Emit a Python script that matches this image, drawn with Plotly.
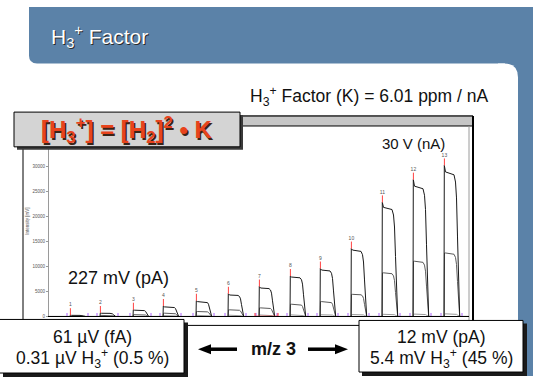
import plotly.graph_objects as go

W, H = 547, 379

def X(p):
    return p / W

def Y(p):
    return 1 - p / H

# ---------------- data ----------------
group_ids = list(range(1, 14))
rise_time = [21, 51, 84, 114, 147, 179, 210, 241, 271, 302, 333, 364, 395]   # scan axis units
pulse_len = [16] * 13
peak_mv = [260, 700, 1350, 2100, 3150, 4550, 6000, 8100, 9600, 13600, 22850, 27400, 30250]
upper_mv = [220, 640, 1260, 1920, 2980, 4300, 5700, 7900, 9300, 13300, 21850, 26100, 28950]
lower_mv = [110, 220, 360, 660, 990, 1330, 1720, 2450, 2980, 4430, 8740, 11060, 12715]
floor_mv = [60, 90, 140, 180, 220, 260, 300, 320, 340, 380, 430, 470, 520]
highlight_group = 7
y_ticks = [0, 5000, 10000, 15000, 20000, 25000, 30000]
y_tick_text = ["0", "5000", "10000", "15000", "20000", "25000", "30000"]

x_end = 420

def pulse(s, n, top, plat, delay=0.0):
    e = s + n
    xs = [s + delay, s + delay + 0.3, s + delay + 1.5, e - 6, e - 4.5, e - 3.5, e - 2.5, e - 0.3]
    ys = [0, top, plat, plat * 0.98, plat * 0.93, plat * 0.82, plat * 0.55, 0]
    return xs, ys

def series(tops, plats, delay=0.0):
    xs, ys = [0], [0]
    for s, n, t, p in zip(rise_time, pulse_len, tops, plats):
        px, py = pulse(s, n, t, p, delay)
        xs += px
        ys += py
    xs.append(x_end)
    ys.append(0)
    return xs, ys

fig = go.Figure()

fx, fy = series(floor_mv, floor_mv, 0.4)
fig.add_trace(go.Scatter(x=fx, y=fy, mode="lines", line=dict(color="#9a9a9a", width=1), hoverinfo="skip"))
lx, ly = series(lower_mv, lower_mv, 0.2)
fig.add_trace(go.Scatter(x=lx, y=ly, mode="lines", line=dict(color="#5a5a5a", width=1), hoverinfo="skip"))
ux, uy = series(peak_mv, upper_mv)
fig.add_trace(go.Scatter(x=ux, y=uy, mode="lines", line=dict(color="#1a1a1a", width=1), hoverinfo="skip"))

# baseline boundary ticks
tick_x = []
for s, n in zip(rise_time, pulse_len):
    tick_x += [s - 3, s + n + 2]
fig.add_trace(go.Scatter(x=tick_x, y=[0] * len(tick_x), mode="markers",
                         marker=dict(symbol="line-ns-open", size=5, line=dict(color="#111", width=1)),
                         hoverinfo="skip"))

# highlighted group baseline (red)
hi = group_ids.index(highlight_group)
hs, hn = rise_time[hi], pulse_len[hi]
fig.add_trace(go.Scatter(x=[hs - 4, hs + hn + 3], y=[0, 0], mode="lines+markers",
                         line=dict(color="#ff3030", width=1.5),
                         marker=dict(symbol="line-ns-open", size=5, line=dict(color="#ff3030", width=1)),
                         hoverinfo="skip"))

# red label markers above each pulse
mx, my = [], []
for s, t in zip(rise_time, peak_mv):
    mx += [s + 0.4, s + 0.4, None]
    my += [t, t + 1400, None]
fig.add_trace(go.Scatter(x=mx, y=my, mode="lines", line=dict(color="#ff4040", width=1), hoverinfo="skip"))
fig.add_trace(go.Scatter(x=[s + 0.4 for s in rise_time], y=[t + 2000 for t in peak_mv],
                         mode="text", text=[str(g) for g in group_ids],
                         textfont=dict(size=5, color="#555", family="Liberation Sans"),
                         hoverinfo="skip"))

# ---------------- slide decoration ----------------
BLUE = "#5b82a8"

def rect(x0, y0, x1, y1, fill, line=None, lw=1, layer="below"):
    d = dict(type="rect", xref="paper", yref="paper", x0=X(x0), x1=X(x1), y0=Y(y1), y1=Y(y0),
             fillcolor=fill, layer=layer)
    d["line"] = dict(color=line, width=lw) if line else dict(width=0)
    return d

def path(pts, fill, layer="below"):
    s = ""
    for cmd, coords in pts:
        s += cmd + " " + " ".join(f"{X(a):.5f},{Y(b):.5f}" for a, b in coords) + " "
    s += "Z"
    return dict(type="path", xref="paper", yref="paper", path=s, fillcolor=fill,
                line=dict(width=0), layer=layer)

def line(x0, y0, x1, y1, color, w, layer="below"):
    return dict(type="line", xref="paper", yref="paper", x0=X(x0), x1=X(x1), y0=Y(y0), y1=Y(y1),
                line=dict(color=color, width=w), layer=layer)

shapes = [
    path([("M", [(29, 7)]), ("L", [(533, 7)]), ("L", [(533, 64)]), ("L", [(37, 64)]),
          ("Q", [(29, 64), (29, 56)])], BLUE),
    rect(505, 7, 533, 379, BLUE),
    path([("M", [(498, 64)]), ("L", [(504, 64)]), ("Q", [(518, 64), (518, 78)]),
          ("L", [(518, 379)]), ("L", [(498, 379)])], "white"),
    # chart frame
    rect(23, 117, 473, 328, "white", "#000", 1),
    rect(23, 117, 473, 127, "#c6c6c6", "#000", 1),
    line(473, 117, 473, 328, "#000", 2),
    line(469, 127, 469, 328, "#9a9a9a", 1),
    # formula box
    rect(17, 116, 243, 151, "#3a3a3a", layer="above"),
    rect(14, 113, 240, 148, "#d4d4d4", "#000", 1, layer="above"),
    # bottom boxes
    rect(3, 325, 188, 380, "#1a1a1a", layer="above"),
    rect(-2, 322, 184, 376, "white", "#000", 1, layer="above"),
    rect(362, 326, 527, 379, "#1a1a1a", layer="above"),
    rect(359, 323, 523, 375, "white", "#000", 1, layer="above"),
    # arrows
    line(209, 352, 237, 352, "#000", 3.5, layer="above"),
    path([("M", [(198, 352)]), ("L", [(211, 347)]), ("L", [(211, 357)])], "#000", layer="above"),
    line(308, 352, 336, 352, "#000", 3.5, layer="above"),
    path([("M", [(348, 352)]), ("L", [(335, 347)]), ("L", [(335, 357)])], "#000", layer="above"),
]

FONT = "Liberation Sans"

def ann(text, x, y, size, color="#111", xanchor="left", bold=False, shadow=None):
    if bold:
        text = f"<b>{text}</b>"
    font = dict(family=FONT, size=size, color=color)
    if shadow:
        font["shadow"] = shadow
    return dict(text=text, x=X(x), y=Y(y), xref="paper", yref="paper", showarrow=False,
                xanchor=xanchor, yanchor="middle", font=font)

title = "H<sub>3</sub><sup>+</sup> Factor"
formula = "[H<sub>3</sub><sup>+</sup>] = [H<sub>2</sub>]<sup>2</sup> • K"
box_left = ["61 µV (fA)", "0.31 µV H<sub>3</sub><sup>+</sup> (0.5 %)"]
box_right = ["12 mV (pA)", "5.4 mV H<sub>3</sub><sup>+</sup> (45 %)"]

annotations = [
    ann(title, 49, 37, 21, "white", shadow="1px 1px 0px #2a2a2a"),
    ann("H<sub>3</sub><sup>+</sup> Factor (K) = 6.01 ppm / nA", 490, 97, 17.5, xanchor="right"),
    ann(formula, 127, 131, 24, "#e8431c", "center", True, shadow="1.5px 1.5px 0px #3a2418"),
    ann("227 mV (pA)", 66, 280, 18),
    ann("30 V (nA)", 380, 145, 15),
    ann(box_left[0], 92, 340, 17.5, xanchor="center"),
    ann(box_left[1], 92, 361, 17.5, xanchor="center"),
    ann(box_right[0], 441, 340, 17.5, xanchor="center"),
    ann(box_right[1], 441, 361, 17.5, xanchor="center"),
    ann("m/z 3", 273, 352, 18, xanchor="center", bold=True),
]

fig.update_layout(
    width=W, height=H, margin=dict(l=0, r=0, t=0, b=0),
    paper_bgcolor="white", plot_bgcolor="rgba(0,0,0,0)", showlegend=False,
    shapes=shapes, annotations=annotations,
    xaxis=dict(domain=[X(49), X(469)], range=[0, x_end], showline=True, linecolor="#000",
               linewidth=1, showgrid=False, zeroline=False, showticklabels=False, ticks=""),
    yaxis=dict(domain=[Y(319), Y(127)], range=[0, 30000 * (319 - 127) / 151], showline=True,
               linecolor="#9a9a9a", linewidth=1, ticks="outside", ticklen=2, tickcolor="#9a9a9a",
               tickmode="array", tickvals=y_ticks, ticktext=y_tick_text,
               tickfont=dict(size=4.5, color="#555", family=FONT),
               showgrid=False, zeroline=False,
               title=dict(text="Intensity [mV]", font=dict(size=4.5, color="#555", family=FONT), standoff=3)),
)

fig.write_html("out.html", config=dict(displayModeBar=False),
               post_script="document.body.style.margin='0px';document.body.style.overflow='hidden';")
